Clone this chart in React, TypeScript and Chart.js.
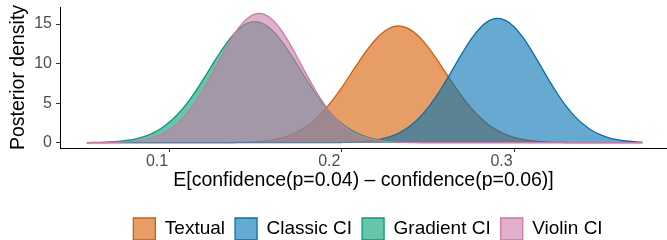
import React, { useEffect, useRef } from "react";
import { Chart, registerables } from "chart.js";

Chart.register(...registerables);

// x grid of the density estimates
const xs = [
  0.052, 0.06, 0.065, 0.07, 0.075, 0.08, 0.085, 0.09, 0.095, 0.1,
  0.105, 0.11, 0.115, 0.12, 0.125, 0.13, 0.135, 0.14, 0.145, 0.15,
  0.155, 0.16, 0.165, 0.17, 0.175, 0.18, 0.185, 0.19, 0.195, 0.2,
  0.205, 0.21, 0.215, 0.22, 0.225, 0.23, 0.235, 0.24, 0.245, 0.25,
  0.255, 0.26, 0.265, 0.27, 0.275, 0.28, 0.285, 0.29, 0.295, 0.3,
  0.305, 0.31, 0.315, 0.32, 0.325, 0.33, 0.335, 0.34, 0.345, 0.35,
  0.355, 0.36, 0.365, 0.37, 0.3745,
];

const textual = [
  0, 0, 0, 0, 0, 0, 0, 0, 0, 0,
  0, 0, 0, 0.002, 0.005, 0.01, 0.02, 0.039, 0.073, 0.131,
  0.227, 0.382, 0.619, 0.969, 1.469, 2.148, 3.037, 4.149, 5.481, 6.989,
  8.616, 10.26, 11.81, 13.14, 14.12, 14.66, 14.71, 14.26, 13.36, 12.1,
  10.58, 8.946, 7.307, 5.77, 4.399, 3.242, 2.31, 1.589, 1.056, 0.679,
  0.421, 0.253, 0.147, 0.082, 0.044, 0.023, 0.012, 0.006, 0.003, 0.001,
  0, 0, 0, 0, 0,
];

const classic = [
  0, 0, 0, 0, 0, 0, 0, 0, 0, 0,
  0, 0, 0, 0, 0, 0, 0, 0, 0, 0,
  0, 0, 0, 0, 0, 0.001, 0.003, 0.006, 0.013, 0.028,
  0.054, 0.104, 0.19, 0.334, 0.566, 0.922, 1.444, 2.177, 3.16, 4.411,
  5.92, 7.645, 9.497, 11.35, 13.05, 14.43, 15.36, 15.72, 15.47, 14.66,
  13.36, 11.71, 9.874, 8.008, 6.25, 4.692, 3.388, 2.353, 1.574, 1.011,
  0.625, 0.372, 0.213, 0.117, 0.066,
];

const gradient = [
  0.016, 0.047, 0.088, 0.159, 0.277, 0.465, 0.756, 1.183, 1.786, 2.602,
  3.654, 4.949, 6.468, 8.151, 9.908, 11.62, 13.13, 14.32, 15.07, 15.29,
  14.96, 14.12, 12.85, 11.28, 9.556, 7.804, 6.148, 4.671, 3.422, 2.419,
  1.65, 1.085, 0.688, 0.421, 0.248, 0.141, 0.077, 0.041, 0.021, 0.01,
  0.005, 0.002, 0, 0, 0, 0, 0, 0, 0, 0,
  0, 0, 0, 0, 0, 0, 0, 0, 0, 0,
  0, 0, 0, 0, 0,
];

const violin = [
  0.003, 0.013, 0.027, 0.055, 0.108, 0.203, 0.365, 0.631, 1.043, 1.656,
  2.52, 3.674, 5.126, 6.87, 8.821, 10.85, 12.8, 14.47, 15.68, 16.29,
  16.23, 15.49, 14.17, 12.43, 10.45, 8.417, 6.503, 4.812, 3.416, 2.324,
  1.516, 0.947, 0.567, 0.326, 0.18, 0.095, 0.048, 0.023, 0.011, 0.005,
  0.002, 0, 0, 0, 0, 0, 0, 0, 0, 0,
  0, 0, 0, 0, 0, 0, 0, 0, 0, 0,
  0, 0, 0, 0, 0,
];

const seriesNames = ["Textual", "Classic CI", "Gradient CI", "Violin CI"];
const seriesValues = [textual, classic, gradient, violin];
const lineColors = ["#D55E00", "#0072B2", "#009E73", "#CC79A7"];
const fillColors = [
  "rgba(213,94,0,0.6)",
  "rgba(0,114,178,0.6)",
  "rgba(0,158,115,0.6)",
  "rgba(204,121,167,0.6)",
];

const xTicks = [0.1, 0.2, 0.3];
const xTickLabels = ["0.1", "0.2", "0.3"];
const yTicks = [0, 5, 10, 15];
const yTickLabels = ["0", "5", "10", "15"];
const xTitle = "E[confidence(p=0.04) \u2013 confidence(p=0.06)]";
const yTitle = "Posterior density";

const FONT = "'Liberation Sans', Arial, Helvetica, sans-serif";

const legendShift = {
  id: "legendShift",
  afterLayout(chart: any) {
    const lg = chart.legend;
    if (lg) {
      lg.left += 34.5;
      lg.right += 34.5;
    }
  },
};

export default function App() {
  const ref = useRef<HTMLCanvasElement | null>(null);

  useEffect(() => {
    if (!ref.current) return;
    const datasets = seriesNames.map((name, i) => ({
      label: name,
      data: xs.map((x, j) => ({ x, y: seriesValues[i][j] })),
      borderColor: lineColors[i],
      backgroundColor: fillColors[i],
      borderWidth: 1.3,
      pointRadius: 0,
      fill: "origin",
      tension: 0.4,
      order: seriesNames.length - i,
    }));

    const chart = new Chart(ref.current, {
      type: "line",
      data: { datasets },
      plugins: [legendShift],
      options: {
        animation: false,
        responsive: false,
        devicePixelRatio: 1,
        layout: { padding: { top: 7, left: 0, right: 0, bottom: 0 } },
        font: { family: FONT },
        plugins: {
          tooltip: { enabled: false },
          legend: {
            position: "bottom",
            align: "center",
            labels: {
              boxWidth: 22,
              boxHeight: 22,
              padding: 10,
              color: "#000000",
              font: { family: FONT, size: 19 },
              sort: (a: any, b: any) => a.datasetIndex - b.datasetIndex,
            },
          },
        },
        scales: {
          x: {
            type: "linear",
            min: 0.0364,
            max: 0.3888,
            afterBuildTicks: (scale: any) => {
              scale.ticks = xTicks.map((v) => ({ value: v }));
            },
            afterFit: (scale: any) => {
              scale.height = 60;
              scale.paddingLeft = 0;
              scale.paddingRight = 0;
            },
            ticks: {
              autoSkip: false,
              maxRotation: 0,
              padding: 0,
              labelOffset: -12.5,
              color: "#4D4D4D",
              font: { family: FONT, size: 16 },
              callback: (value: any) => {
                const k = xTicks.findIndex((t) => Math.abs(t - value) < 1e-9);
                return k >= 0 ? xTickLabels[k] : "";
              },
            },
            grid: {
              display: true,
              drawOnChartArea: false,
              drawTicks: true,
              tickLength: 4,
              color: "#333333",
              lineWidth: 1,
            },
            border: { display: true, color: "#000000", width: 1 },
            title: {
              display: true,
              text: xTitle,
              color: "#000000",
              font: { family: FONT, size: 19.5 },
              padding: { top: 0, bottom: 15.8 },
            },
          },
          y: {
            type: "linear",
            min: -0.67,
            max: 17.15,
            afterBuildTicks: (scale: any) => {
              scale.ticks = yTicks.map((v) => ({ value: v }));
            },
            afterFit: (scale: any) => {
              scale.width = 60;
              scale.paddingTop = 0;
              scale.paddingBottom = 0;
            },
            ticks: {
              autoSkip: false,
              padding: 4,
              color: "#4D4D4D",
              font: { family: FONT, size: 16 },
              callback: (value: any) => {
                const k = yTicks.findIndex((t) => Math.abs(t - value) < 1e-9);
                return k >= 0 ? yTickLabels[k] : "";
              },
            },
            grid: {
              display: true,
              drawOnChartArea: false,
              drawTicks: true,
              tickLength: 4,
              color: "#333333",
              lineWidth: 1,
            },
            border: { display: true, color: "#000000", width: 1 },
            title: {
              display: true,
              text: yTitle,
              color: "#000000",
              font: { family: FONT, size: 19.5 },
              padding: { top: 7.4, bottom: 0 },
            },
          },
        },
      } as any,
    });
    return () => chart.destroy();
  }, []);

  return (
    <div
      style={{
        position: "absolute",
        left: 0,
        top: 0,
        width: 667,
        height: 240,
        overflow: "hidden",
        background: "#ffffff",
      }}
    >
      <canvas ref={ref} width={667} height={250} style={{ display: "block" }} />
    </div>
  );
}
